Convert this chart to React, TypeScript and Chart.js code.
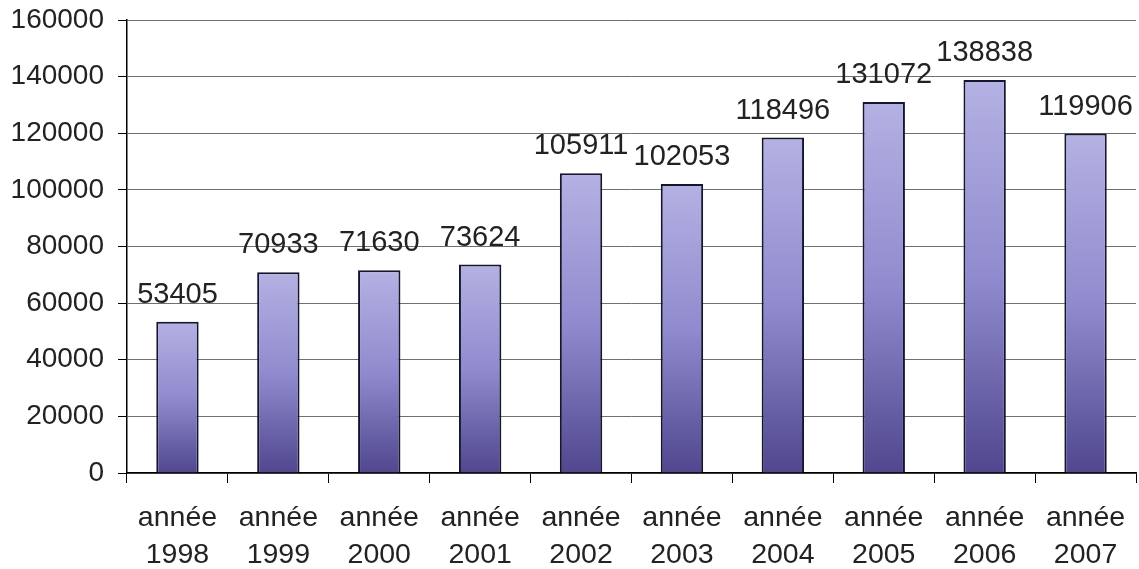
import React, { useEffect, useRef } from "react";
import { Chart, registerables } from "chart.js";

Chart.register(...registerables);

const categories: string[][] = [
  ["année", "1998"], ["année", "1999"], ["année", "2000"], ["année", "2001"], ["année", "2002"],
  ["année", "2003"], ["année", "2004"], ["année", "2005"], ["année", "2006"], ["année", "2007"],
];
const values: number[] = [53405, 70933, 71630, 73624, 105911, 102053, 118496, 131072, 138838, 119906];
const yTicks: number[] = [0, 20000, 40000, 60000, 80000, 100000, 120000, 140000, 160000];

const FONT = "'Liberation Sans', Arial, sans-serif";

const labelPlugin = {
  id: "valueLabels",
  afterDatasetsDraw(chart: any) {
    const c = chart.ctx;
    const meta = chart.getDatasetMeta(0);
    c.save();
    c.font = `29px ${FONT}`;
    c.fillStyle = "#222";
    c.textAlign = "center";
    c.textBaseline = "alphabetic";
    meta.data.forEach((el: any, i: number) => {
      c.fillText(String(values[i]), el.x, el.y - 19);
    });
    c.restore();
  },
};

export default function App() {
  const ref = useRef<HTMLCanvasElement | null>(null);
  useEffect(() => {
    document.body.style.margin = "0";
    const chart = new Chart(ref.current as HTMLCanvasElement, {
      type: "bar",
      data: {
        labels: categories,
        datasets: [
          {
            data: values,
            backgroundColor: (ctx: any) => {
              const chart = ctx.chart;
              if (!chart.chartArea || ctx.type !== "data") return "#8c87cc";
              const y = chart.scales.y.getPixelForValue(ctx.raw);
              const b = chart.scales.y.getPixelForValue(0);
              const g = chart.ctx.createLinearGradient(0, y, 0, b);
              g.addColorStop(0, "#b4b1e3");
              g.addColorStop(0.5, "#908bce");
              g.addColorStop(1, "#50478e");
              return g;
            },
            borderColor: "#15152e",
            borderWidth: 2,
            barPercentage: 0.42,
            categoryPercentage: 1,
          },
        ],
      },
      options: {
        animation: false,
        responsive: true,
        maintainAspectRatio: false,
        layout: { padding: { top: 20, right: 3, left: 0, bottom: 0 } },
        plugins: { legend: { display: false }, tooltip: { enabled: false } },
        scales: {
          x: {
            afterFit: (s: any) => { s.height = 96; s.paddingLeft = 0; s.paddingRight = 0; },
            grid: { display: true, drawOnChartArea: false, tickLength: 10, tickColor: "#000", offset: true },
            border: { color: "#000", width: 1.5 },
            ticks: { color: "#222", font: { family: FONT, size: 28.5, lineHeight: 1.3 }, padding: 17, maxRotation: 0, autoSkip: false },
          },
          y: {
            min: 0,
            max: 160000,
            afterFit: (s: any) => { s.width = 127; s.paddingTop = 0; s.paddingBottom = 0; },
            afterBuildTicks: (s: any) => { s.ticks = yTicks.map((v) => ({ value: v })); },
            grid: { color: "#707070", lineWidth: 1, tickLength: 9, tickColor: "#000" },
            border: { color: "#000", width: 1.5 },
            ticks: { color: "#222", font: { family: FONT, size: 28 }, padding: 14, callback: (v: any) => String(v) },
          },
        },
      },
      plugins: [labelPlugin],
    });
    return () => chart.destroy();
  }, []);
  return (
    <div style={{ width: 1139, height: 569, position: "relative", background: "#fff" }}>
      <canvas ref={ref} />
    </div>
  );
}
